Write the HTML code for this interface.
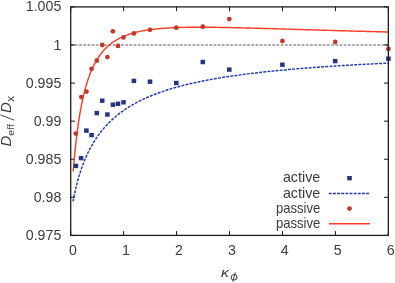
<!DOCTYPE html>
<html><head><meta charset="utf-8"><title>plot</title>
<style>html,body{margin:0;padding:0;background:#fff}svg{display:block;will-change:transform}text{font-family:"Liberation Sans",sans-serif;fill:#3c3c3c}</style></head>
<body>
<svg width="395" height="283" viewBox="0 0 395 283">
<rect width="395" height="283" fill="#fff"/>
<path d="M70.7,44.98 H388.35" stroke="#8e8e8e" stroke-width="1.4" stroke-dasharray="2.75 1.45" fill="none"/>
<path d="M70.70,235.4 v-4.3 M70.70,6.9 v4.3 M123.64,235.4 v-4.3 M123.64,6.9 v4.3 M176.58,235.4 v-4.3 M176.58,6.9 v4.3 M229.53,235.4 v-4.3 M229.53,6.9 v4.3 M282.47,235.4 v-4.3 M282.47,6.9 v4.3 M335.41,235.4 v-4.3 M335.41,6.9 v4.3 M388.35,235.4 v-4.3 M388.35,6.9 v4.3 M70.7,235.40 h4.3 M388.35,235.40 h-4.3 M70.7,197.32 h4.3 M388.35,197.32 h-4.3 M70.7,159.23 h4.3 M388.35,159.23 h-4.3 M70.7,121.15 h4.3 M388.35,121.15 h-4.3 M70.7,83.07 h4.3 M388.35,83.07 h-4.3 M70.7,44.98 h4.3 M388.35,44.98 h-4.3 M70.7,6.90 h4.3 M388.35,6.90 h-4.3" stroke="#111" stroke-width="1" fill="none"/>
<path d="M73.03,201.37 L73.03,201.37 L73.04,201.34 L73.05,201.28 L73.06,201.20 L73.09,201.09 L73.11,200.95 L73.14,200.78 L73.18,200.57 L73.23,200.34 L73.28,200.07 L73.33,199.77 L73.40,199.44 L73.47,199.07 L73.55,198.68 L73.63,198.25 L73.72,197.79 L73.82,197.29 L73.93,196.77 L74.04,196.21 L74.16,195.63 L74.29,195.02 L74.42,194.37 L74.56,193.70 L74.71,193.01 L74.87,192.28 L75.04,191.53 L75.21,190.76 L75.39,189.96 L75.58,189.15 L75.78,188.31 L75.99,187.45 L76.20,186.57 L76.42,185.67 L76.65,184.75 L76.89,183.82 L77.14,182.87 L77.39,181.91 L77.66,180.94 L77.93,179.95 L78.21,178.95 L78.50,177.94 L78.80,176.92 L79.10,175.90 L79.42,174.86 L79.74,173.82 L80.07,172.77 L80.41,171.71 L80.76,170.65 L81.12,169.59 L81.49,168.52 L81.87,167.45 L82.25,166.38 L82.65,165.31 L83.05,164.23 L83.46,163.16 L83.89,162.08 L84.32,161.01 L84.76,159.94 L85.21,158.86 L85.67,157.80 L86.13,156.73 L86.61,155.67 L87.10,154.61 L87.59,153.55 L88.10,152.50 L88.61,151.45 L89.14,150.41 L89.67,149.37 L90.21,148.34 L90.77,147.31 L91.33,146.29 L91.90,145.28 L92.48,144.27 L93.07,143.27 L93.67,142.27 L94.28,141.28 L94.90,140.30 L95.53,139.33 L96.17,138.36 L96.82,137.40 L97.48,136.45 L98.15,135.50 L98.83,134.57 L99.52,133.64 L100.22,132.72 L100.93,131.80 L101.64,130.90 L102.37,130.00 L103.11,129.11 L103.86,128.23 L104.62,127.36 L105.39,126.50 L106.17,125.64 L106.95,124.80 L107.75,123.96 L108.56,123.13 L109.38,122.31 L110.21,121.49 L111.05,120.69 L111.90,119.89 L112.76,119.11 L113.63,118.33 L114.51,117.55 L115.40,116.79 L116.31,116.04 L117.22,115.29 L118.14,114.55 L119.07,113.82 L120.02,113.10 L120.97,112.39 L121.93,111.68 L122.91,110.98 L123.89,110.29 L124.89,109.61 L125.89,108.94 L126.91,108.27 L127.94,107.61 L128.98,106.96 L130.02,106.32 L131.08,105.68 L132.15,105.05 L133.23,104.43 L134.32,103.82 L135.42,103.21 L136.54,102.61 L137.66,102.02 L138.79,101.43 L139.94,100.86 L141.09,100.29 L142.26,99.72 L143.44,99.16 L144.62,98.61 L145.82,98.07 L147.03,97.53 L148.25,97.00 L149.48,96.48 L150.73,95.96 L151.98,95.45 L153.24,94.94 L154.52,94.45 L155.80,93.95 L157.10,93.47 L158.41,92.99 L159.73,92.51 L161.06,92.04 L162.40,91.58 L163.75,91.12 L165.12,90.67 L166.49,90.22 L167.88,89.78 L169.27,89.35 L170.68,88.92 L172.10,88.49 L173.53,88.07 L174.97,87.66 L176.42,87.25 L177.89,86.84 L179.36,86.44 L180.85,86.05 L182.34,85.66 L183.85,85.27 L185.37,84.89 L186.90,84.52 L188.45,84.15 L190.00,83.78 L191.57,83.42 L193.14,83.06 L194.73,82.71 L196.33,82.36 L197.94,82.02 L199.56,81.68 L201.20,81.34 L202.84,81.01 L204.50,80.68 L206.17,80.36 L207.85,80.04 L209.54,79.72 L211.24,79.41 L212.95,79.10 L214.68,78.79 L216.42,78.49 L218.16,78.19 L219.92,77.90 L221.70,77.61 L223.48,77.32 L225.27,77.04 L227.08,76.76 L228.90,76.48 L230.73,76.21 L232.57,75.94 L234.42,75.67 L236.29,75.41 L238.16,75.15 L240.05,74.89 L241.95,74.63 L243.86,74.38 L245.79,74.13 L247.72,73.89 L249.67,73.64 L251.63,73.40 L253.60,73.17 L255.58,72.93 L257.58,72.70 L259.58,72.47 L261.60,72.24 L263.63,72.02 L265.67,71.80 L267.72,71.58 L269.79,71.36 L271.87,71.15 L273.95,70.94 L276.05,70.73 L278.17,70.52 L280.29,70.32 L282.43,70.11 L284.58,69.91 L286.74,69.72 L288.91,69.52 L291.10,69.33 L293.29,69.14 L295.50,68.95 L297.72,68.76 L299.95,68.58 L302.20,68.39 L304.46,68.21 L306.72,68.04 L309.01,67.86 L311.30,67.68 L313.60,67.51 L315.92,67.34 L318.25,67.17 L320.59,67.00 L322.95,66.84 L325.31,66.68 L327.69,66.51 L330.08,66.35 L332.48,66.19 L334.90,66.04 L337.32,65.88 L339.76,65.73 L342.21,65.58 L344.68,65.43 L347.15,65.28 L349.64,65.13 L352.14,64.99 L354.65,64.84 L357.18,64.70 L359.71,64.56 L362.26,64.42 L364.82,64.28 L367.40,64.15 L369.98,64.01 L372.58,63.88 L375.19,63.75 L377.82,63.62 L380.45,63.49 L383.10,63.36 L385.76,63.23 L388.44,63.11" stroke="#2137b6" stroke-width="1.45" stroke-dasharray="2.9 1.25" fill="none"/>
<path d="M73.19,171.59 L73.19,171.57 L73.20,171.50 L73.21,171.38 L73.22,171.18 L73.24,170.93 L73.27,170.60 L73.30,170.20 L73.34,169.73 L73.39,169.18 L73.44,168.57 L73.49,167.87 L73.56,167.11 L73.63,166.27 L73.70,165.36 L73.79,164.37 L73.88,163.32 L73.98,162.20 L74.08,161.01 L74.20,159.76 L74.32,158.45 L74.44,157.07 L74.58,155.64 L74.72,154.16 L74.87,152.62 L75.03,151.03 L75.20,149.40 L75.37,147.73 L75.55,146.01 L75.74,144.26 L75.94,142.48 L76.14,140.66 L76.36,138.82 L76.58,136.96 L76.81,135.07 L77.05,133.16 L77.30,131.24 L77.55,129.31 L77.81,127.37 L78.09,125.42 L78.37,123.47 L78.66,121.52 L78.95,119.57 L79.26,117.62 L79.57,115.67 L79.90,113.74 L80.23,111.81 L80.57,109.89 L80.92,107.99 L81.28,106.10 L81.65,104.23 L82.02,102.38 L82.41,100.54 L82.80,98.73 L83.21,96.94 L83.62,95.17 L84.04,93.42 L84.47,91.70 L84.91,90.00 L85.36,88.33 L85.82,86.68 L86.29,85.06 L86.76,83.47 L87.25,81.91 L87.75,80.37 L88.25,78.86 L88.76,77.38 L89.29,75.93 L89.82,74.51 L90.36,73.12 L90.92,71.75 L91.48,70.41 L92.05,69.10 L92.63,67.82 L93.22,66.57 L93.82,65.35 L94.43,64.15 L95.05,62.98 L95.68,61.84 L96.32,60.73 L96.97,59.64 L97.63,58.58 L98.30,57.54 L98.98,56.53 L99.66,55.54 L100.36,54.59 L101.07,53.65 L101.79,52.74 L102.52,51.85 L103.25,50.99 L104.00,50.15 L104.76,49.33 L105.53,48.53 L106.31,47.76 L107.10,47.00 L107.89,46.27 L108.70,45.56 L109.52,44.87 L110.35,44.20 L111.19,43.55 L112.04,42.91 L112.90,42.30 L113.77,41.70 L114.65,41.12 L115.54,40.56 L116.44,40.02 L117.35,39.49 L118.28,38.98 L119.21,38.48 L120.15,38.00 L121.10,37.54 L122.07,37.09 L123.04,36.65 L124.03,36.23 L125.02,35.82 L126.03,35.43 L127.04,35.05 L128.07,34.68 L129.11,34.32 L130.15,33.98 L131.21,33.65 L132.28,33.33 L133.36,33.02 L134.45,32.72 L135.55,32.44 L136.66,32.16 L137.79,31.90 L138.92,31.64 L140.06,31.40 L141.22,31.16 L142.38,30.93 L143.56,30.71 L144.75,30.51 L145.95,30.30 L147.15,30.11 L148.37,29.93 L149.61,29.75 L150.85,29.58 L152.10,29.42 L153.36,29.27 L154.64,29.12 L155.92,28.98 L157.22,28.85 L158.53,28.72 L159.84,28.60 L161.17,28.49 L162.51,28.38 L163.87,28.28 L165.23,28.18 L166.60,28.09 L167.99,28.01 L169.38,27.93 L170.79,27.85 L172.21,27.78 L173.64,27.72 L175.08,27.66 L176.53,27.60 L177.99,27.55 L179.47,27.50 L180.95,27.46 L182.45,27.42 L183.96,27.38 L185.48,27.35 L187.01,27.32 L188.55,27.30 L190.10,27.28 L191.67,27.26 L193.24,27.25 L194.83,27.24 L196.43,27.23 L198.04,27.23 L199.66,27.22 L201.29,27.22 L202.94,27.23 L204.59,27.23 L206.26,27.24 L207.94,27.26 L209.63,27.27 L211.33,27.29 L213.04,27.30 L214.77,27.32 L216.50,27.35 L218.25,27.37 L220.01,27.40 L221.78,27.43 L223.56,27.46 L225.36,27.49 L227.16,27.52 L228.98,27.56 L230.81,27.60 L232.65,27.64 L234.50,27.68 L236.36,27.72 L238.24,27.76 L240.13,27.81 L242.03,27.85 L243.94,27.90 L245.86,27.95 L247.79,28.00 L249.74,28.05 L251.70,28.10 L253.67,28.15 L255.65,28.21 L257.64,28.26 L259.65,28.32 L261.66,28.37 L263.69,28.43 L265.73,28.49 L267.78,28.55 L269.85,28.61 L271.92,28.67 L274.01,28.73 L276.11,28.79 L278.22,28.85 L280.35,28.92 L282.48,28.98 L284.63,29.04 L286.79,29.11 L288.96,29.17 L291.14,29.24 L293.34,29.31 L295.55,29.37 L297.77,29.44 L300.00,29.51 L302.24,29.57 L304.50,29.64 L306.77,29.71 L309.05,29.78 L311.34,29.85 L313.64,29.91 L315.96,29.98 L318.29,30.05 L320.63,30.12 L322.98,30.19 L325.34,30.26 L327.72,30.33 L330.11,30.40 L332.51,30.47 L334.92,30.54 L337.35,30.61 L339.79,30.68 L342.24,30.75 L344.70,30.82 L347.17,30.89 L349.66,30.97 L352.16,31.04 L354.67,31.11 L357.19,31.18 L359.73,31.25 L362.28,31.32 L364.84,31.39 L367.41,31.46 L369.99,31.53 L372.59,31.60 L375.20,31.67 L377.82,31.74 L380.46,31.81 L383.10,31.88 L385.76,31.95 L388.44,32.02" stroke="#ff3b22" stroke-width="1.4" fill="none" stroke-linejoin="round"/>
<g fill="#27357f"><rect x="73.60" y="163.70" width="4.6" height="4.4"/><rect x="78.80" y="155.90" width="4.6" height="4.4"/><rect x="84.10" y="128.40" width="4.6" height="4.4"/><rect x="89.30" y="132.90" width="4.6" height="4.4"/><rect x="94.50" y="110.90" width="4.6" height="4.4"/><rect x="99.90" y="98.50" width="4.6" height="4.4"/><rect x="105.10" y="112.30" width="4.6" height="4.4"/><rect x="110.60" y="102.50" width="4.6" height="4.4"/><rect x="115.70" y="101.60" width="4.6" height="4.4"/><rect x="121.20" y="100.10" width="4.6" height="4.4"/><rect x="131.60" y="78.70" width="4.6" height="4.4"/><rect x="147.70" y="79.50" width="4.6" height="4.4"/><rect x="174.00" y="80.80" width="4.6" height="4.4"/><rect x="200.50" y="59.80" width="4.6" height="4.4"/><rect x="227.00" y="67.40" width="4.6" height="4.4"/><rect x="280.10" y="62.50" width="4.6" height="4.4"/><rect x="332.90" y="58.90" width="4.6" height="4.4"/><rect x="386.10" y="56.50" width="4.6" height="4.4"/><rect x="347.20" y="176.00" width="4.6" height="4.4"/></g>
<g fill="#c0392b"><circle cx="75.80" cy="133.60" r="2.4"/><circle cx="81.30" cy="97.10" r="2.4"/><circle cx="86.40" cy="91.60" r="2.4"/><circle cx="91.60" cy="68.80" r="2.4"/><circle cx="96.80" cy="60.70" r="2.4"/><circle cx="102.20" cy="45.00" r="2.4"/><circle cx="107.40" cy="57.10" r="2.4"/><circle cx="112.90" cy="31.30" r="2.4"/><circle cx="118.00" cy="45.90" r="2.4"/><circle cx="123.50" cy="37.40" r="2.4"/><circle cx="133.90" cy="33.40" r="2.4"/><circle cx="150.00" cy="29.80" r="2.4"/><circle cx="176.30" cy="27.70" r="2.4"/><circle cx="202.80" cy="26.70" r="2.4"/><circle cx="229.30" cy="19.10" r="2.4"/><circle cx="282.40" cy="41.00" r="2.4"/><circle cx="335.20" cy="41.90" r="2.4"/><circle cx="388.40" cy="48.90" r="2.4"/><circle cx="349.50" cy="208.60" r="2.4"/></g>
<path d="M328.8,193.5 H369.4" stroke="#2137b6" stroke-width="1.45" stroke-dasharray="2.9 1.25" fill="none"/>
<path d="M329,223.7 H370" stroke="#ff3b22" stroke-width="1.4" fill="none"/>
<rect x="70.7" y="6.9" width="317.65000000000003" height="228.5" fill="none" stroke="#1c1c1c" stroke-width="1.3"/>
<text transform="translate(61.3,239.95) scale(1,1.06)" font-size="14.2" text-anchor="end">0.975</text>
<text transform="translate(61.3,201.87) scale(1,1.06)" font-size="14.2" text-anchor="end">0.98</text>
<text transform="translate(61.3,163.78) scale(1,1.06)" font-size="14.2" text-anchor="end">0.985</text>
<text transform="translate(61.3,125.70) scale(1,1.06)" font-size="14.2" text-anchor="end">0.99</text>
<text transform="translate(61.3,87.62) scale(1,1.06)" font-size="14.2" text-anchor="end">0.995</text>
<text transform="translate(61.3,49.53) scale(1,1.06)" font-size="14.2" text-anchor="end">1</text>
<text transform="translate(61.3,11.45) scale(1,1.06)" font-size="14.2" text-anchor="end">1.005</text>
<text transform="translate(73.00,255.2) scale(1,1.06)" font-size="14.2" text-anchor="middle">0</text>
<text transform="translate(125.94,255.2) scale(1,1.06)" font-size="14.2" text-anchor="middle">1</text>
<text transform="translate(178.88,255.2) scale(1,1.06)" font-size="14.2" text-anchor="middle">2</text>
<text transform="translate(231.83,255.2) scale(1,1.06)" font-size="14.2" text-anchor="middle">3</text>
<text transform="translate(284.77,255.2) scale(1,1.06)" font-size="14.2" text-anchor="middle">4</text>
<text transform="translate(337.71,255.2) scale(1,1.06)" font-size="14.2" text-anchor="middle">5</text>
<text transform="translate(390.65,255.2) scale(1,1.06)" font-size="14.2" text-anchor="middle">6</text>
<text x="282.90" y="182.40" font-size="14.2" textLength="37.4" lengthAdjust="spacingAndGlyphs">active</text>
<text x="282.90" y="197.70" font-size="14.2" textLength="37.4" lengthAdjust="spacingAndGlyphs">active</text>
<text x="275.90" y="212.80" font-size="14.2" textLength="44.4" lengthAdjust="spacingAndGlyphs">passive</text>
<text x="275.90" y="228.00" font-size="14.2" textLength="44.4" lengthAdjust="spacingAndGlyphs">passive</text>
<text transform="translate(221.1,277.3) scale(1.13,0.93)" font-size="14" font-style="italic">κ</text>
<g stroke="#3c3c3c" stroke-width="0.95" fill="none" stroke-linecap="round"><ellipse cx="234.05" cy="277.3" rx="2.9" ry="2.6" transform="rotate(-20 234.05 277.3)"/><path d="M235.2,272.7 L232.8,281.5"/></g>
<g transform="translate(11.3,145.6) rotate(-90)"><text x="-1.0" y="0" font-size="15" font-style="italic">D</text><text x="9.9" y="2.8" font-size="9.4" textLength="11.6" lengthAdjust="spacingAndGlyphs">eff</text><path d="M25.4,3.0 L30.8,-10.9" stroke="#3c3c3c" stroke-width="0.95" fill="none"/><text x="32.7" y="0" font-size="15" font-style="italic">D</text><text x="43.9" y="2.9" font-size="11.6">x</text></g>
</svg></body></html>
